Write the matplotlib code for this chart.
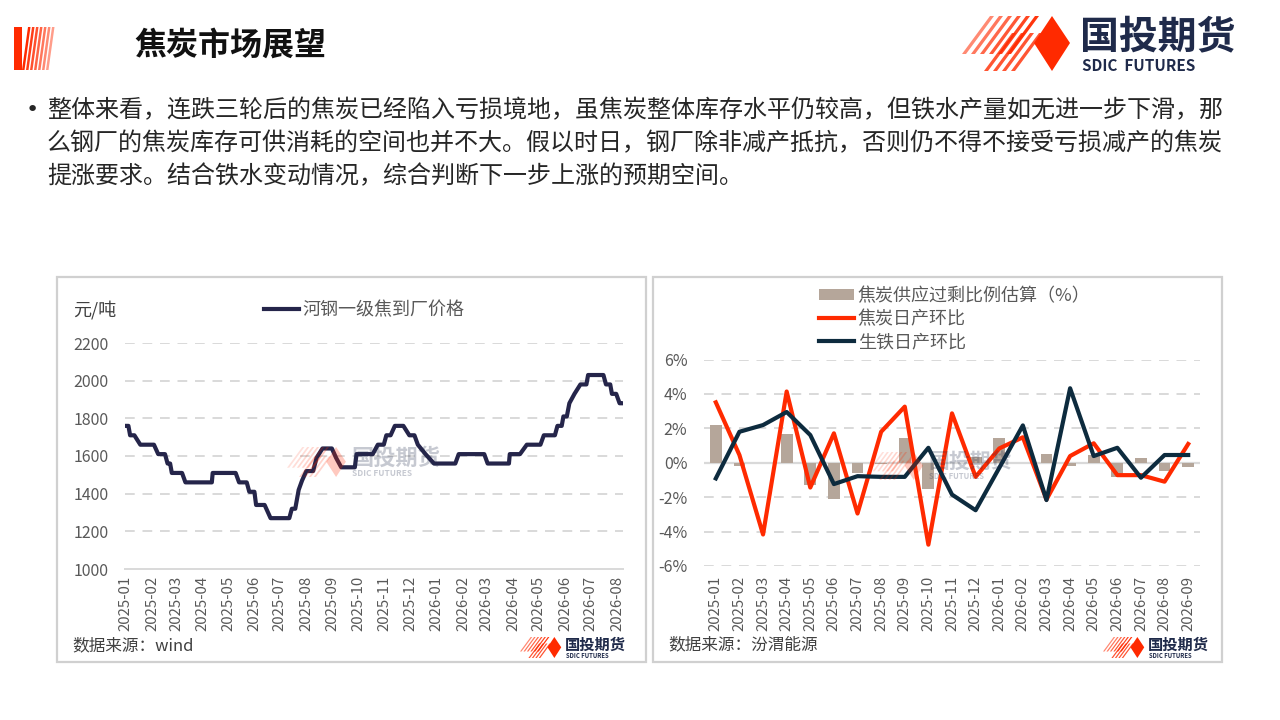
import matplotlib
matplotlib.use("Agg")
import matplotlib.pyplot as plt
import matplotlib.dates as mdates
from matplotlib.patches import Polygon, Rectangle
from matplotlib.lines import Line2D
import numpy as np
import pandas as pd

plt.rcParams['font.family'] = ['Noto Sans CJK SC', 'DejaVu Sans']

# ---- data: left chart (HeGang coke price, change points) ----
price_dates = ["2025-01-01", "2025-01-04", "2025-01-06", "2025-01-11", "2025-01-18",
               "2025-02-03", "2025-02-08", "2025-02-16", "2025-02-19", "2025-02-22",
               "2025-02-24", "2025-03-08", "2025-03-12", "2025-04-12", "2025-04-13",
               "2025-05-10", "2025-05-14", "2025-05-23", "2025-05-26", "2025-06-01",
               "2025-06-03", "2025-06-13", "2025-06-20", "2025-07-12", "2025-07-15",
               "2025-07-19", "2025-07-23", "2025-07-27", "2025-08-01", "2025-08-09",
               "2025-08-13", "2025-08-20", "2025-08-31", "2025-09-05", "2025-09-11",
               "2025-09-27", "2025-09-29", "2025-10-18", "2025-10-24", "2025-10-31",
               "2025-11-03", "2025-11-08", "2025-11-13", "2025-11-23", "2025-11-30",
               "2025-12-06", "2025-12-10", "2025-12-19", "2025-12-29", "2026-01-23",
               "2026-01-27", "2026-02-26", "2026-03-02", "2026-03-27", "2026-03-28",
               "2026-04-09", "2026-04-17", "2026-05-03", "2026-05-07", "2026-05-20",
               "2026-05-23", "2026-05-28", "2026-05-30", "2026-06-03", "2026-06-06",
               "2026-06-12", "2026-06-19", "2026-06-26", "2026-06-28", "2026-07-16",
               "2026-07-19", "2026-07-24", "2026-07-26", "2026-07-31", "2026-08-04",
               "2026-08-06"]
price_values = [1760, 1760, 1710, 1710, 1660,
                1660, 1610, 1610, 1560, 1560,
                1510, 1510, 1460, 1460, 1510,
                1510, 1460, 1460, 1410, 1410,
                1340, 1340, 1270, 1270, 1320,
                1320, 1420, 1470, 1520, 1520,
                1590, 1640, 1640, 1590, 1540,
                1540, 1610, 1610, 1660, 1660,
                1710, 1710, 1760, 1760, 1710,
                1710, 1660, 1610, 1560, 1560,
                1610, 1610, 1560, 1560, 1610,
                1610, 1660, 1660, 1710, 1710,
                1760, 1760, 1810, 1810, 1880,
                1930, 1980, 1980, 2030, 2030,
                1980, 1980, 1930, 1930, 1880,
                1880]

# ---- data: right chart (monthly, %) ----
months = ["2025-01", "2025-02", "2025-03", "2025-04", "2025-05", "2025-06", "2025-07",
          "2025-08", "2025-09", "2025-10", "2025-11", "2025-12", "2026-01", "2026-02",
          "2026-03", "2026-04", "2026-05", "2026-06", "2026-07", "2026-08", "2026-09"]
surplus = [2.17, -0.21, 0.0, 1.65, -1.3, -2.08, -0.58,
           -0.05, 1.46, -1.55, 0.0, 0.35, 1.42, 0.0,
           0.5, -0.17, 0.43, -0.82, 0.27, -0.47, -0.23]
coke_mom = [3.51, 0.45, -4.17, 4.14, -1.44, 1.71, -2.95,
            1.8, 3.26, -4.76, 2.87, -0.82, 0.83, 1.48,
            -2.14, 0.39, 1.13, -0.72, -0.72, -1.1, 1.09]
iron_mom = [-0.91, 1.8, 2.19, 2.95, 1.61, -1.24, -0.78,
            -0.82, -0.82, 0.87, -1.85, -2.76, -0.3, 2.17,
            -2.17, 4.33, 0.39, 0.87, -0.87, 0.45, 0.45]

W, H = 1280, 720
RED = '#FF2A00'
NAVY = '#1F2A4A'
GRAY_TXT = '#595959'
GRID = '#D9D9D9'


def px(x, y):
    return (x / W, 1 - y / H)


def box(x0, y0, x1, y1):
    l, b = px(x0, y1)
    return [l, b, (x1 - x0) / W, (y1 - y0) / H]


def poly(fig, pts, color, alpha=1.0):
    fig.add_artist(Polygon([px(*p) for p in pts], closed=True, transform=fig.transFigure,
                           facecolor=color, edgecolor='none', alpha=alpha))


def draw_logo(fig, x0, y0, h, alpha=1.0, text=True, txt_size=30, sub_size=10,
              sub_text="SDIC FUTURES", txt_y=21, sub_y=49):
    # stripes + diamond, x0,y0 = top-left in pixels, h = height
    s = h / 55.0
    for i in range(6):
        bx = x0 + i * 9 * s
        poly(fig, [(bx, y0 + 38 * s), (bx + 28 * s, y0), (bx + 32 * s, y0),
                   (bx + 4 * s, y0 + 38 * s)], RED, alpha * (0.55 + 0.08 * i))
    for i in range(4):
        bx = x0 + 22 * s + i * 9 * s
        poly(fig, [(bx, y0 + 55 * s), (bx + 28 * s, y0 + 17 * s), (bx + 32 * s, y0 + 17 * s),
                   (bx + 4 * s, y0 + 55 * s)], RED, alpha * 0.8)
    cx = x0 + 90 * s
    poly(fig, [(cx - 18 * s, y0 + 27 * s), (cx, y0), (cx + 18 * s, y0 + 27 * s),
               (cx, y0 + 55 * s)], RED, alpha)
    if text:
        tx = cx + 28 * s
        fig.text(*px(tx, y0 + txt_y * s), "国投期货", fontsize=txt_size, fontweight='bold',
                 color=NAVY, alpha=alpha, va='center', ha='left')
        fig.text(*px(tx + 2 * s, y0 + sub_y * s), sub_text, fontsize=sub_size,
                 fontweight='bold', color=NAVY, alpha=alpha, va='center', ha='left')


fig = plt.figure(figsize=(12.8, 7.2), dpi=100)
fig.patch.set_facecolor('white')

# ---- header ----
poly(fig, [(14, 27), (22, 27), (22, 70), (14, 70)], RED)
for i in range(7):
    bx = 22 + i * 4
    poly(fig, [(bx, 70), (bx + 6, 27), (bx + 8.5, 27), (bx + 2.5, 70)], RED, 1.0 - i * 0.09)
fig.text(*px(134, 46), "焦炭市场展望", fontsize=23, fontweight='bold', color='#111111',
         va='center', ha='left')
draw_logo(fig, 962, 16, 55, txt_size=28, sub_size=11, sub_text="SDIC  FUTURES",
          txt_y=21, sub_y=50)

# ---- bullet text ----
lines = ["整体来看，连跌三轮后的焦炭已经陷入亏损境地，虽焦炭整体库存水平仍较高，但铁水产量如无进一步下滑，那",
         "么钢厂的焦炭库存可供消耗的空间也并不大。假以时日，钢厂除非减产抵抗，否则仍不得不接受亏损减产的焦炭",
         "提涨要求。结合铁水变动情况，综合判断下一步上涨的预期空间。"]
fig.text(*px(26, 110), "•", fontsize=16, color='#262626', va='center', ha='left',
         family='DejaVu Sans')
for i, ln in enumerate(lines):
    fig.text(*px(47, 110 + 33 * i), ln, fontsize=17.3, color='#262626', va='center', ha='left')

# ---- panel frames ----
for (a, b, c, d) in [(57, 277, 646, 662), (653, 277, 1222, 662)]:
    fig.add_artist(Rectangle(px(a, d), (c - a) / W, (d - b) / H, transform=fig.transFigure,
                             facecolor='none', edgecolor='#D0D0D0', linewidth=1.6))

# ---- left chart ----
ax1 = fig.add_axes(box(125, 343, 623, 569))
d = pd.to_datetime(price_dates)
ax1.plot(d, price_values, color='#25254A', linewidth=3.0, solid_joinstyle='round',
         label='河钢一级焦到厂价格', zorder=3)
ax1.set_ylim(1000, 2200)
ax1.set_yticks(np.arange(1000, 2201, 200))
ax1.set_xlim(pd.Timestamp("2024-12-31"), pd.Timestamp("2026-08-08"))
ax1.xaxis.set_major_locator(mdates.MonthLocator())
ax1.xaxis.set_major_formatter(mdates.DateFormatter('%Y-%m'))
for yv in range(1200, 2201, 200):
    ax1.axhline(yv, color=GRID, linewidth=1.4, linestyle=(0, (5, 4)), zorder=1)
for s in ['top', 'right', 'left']:
    ax1.spines[s].set_visible(False)
ax1.spines['bottom'].set_color(GRID)
ax1.spines['bottom'].set_linewidth(1.4)
ax1.tick_params(axis='y', length=0, pad=12, labelsize=11.5, labelcolor=GRAY_TXT)
ax1.tick_params(axis='x', length=0, pad=5, labelsize=10.8, labelcolor=GRAY_TXT, rotation=90)
fig.text(*px(73, 310), "元/吨", fontsize=13, color='#404040', va='center', ha='left')
fig.legend(handles=[Line2D([], [], color='#25254A', linewidth=3.0)], labels=['河钢一级焦到厂价格'],
           loc='center left', bbox_to_anchor=px(264, 310), frameon=False, fontsize=13,
           handlelength=1.95, handletextpad=0.2, labelcolor=GRAY_TXT, borderpad=0,
           borderaxespad=0)
fig.text(*px(72, 646), "数据来源：wind", fontsize=12, color='#404040', va='center', ha='left')
draw_logo(fig, 520, 637, 21, txt_size=11, sub_size=4.3)
# watermark
draw_logo(fig, 287, 447, 30, alpha=0.25, txt_size=16, sub_size=6)

# ---- right chart ----
ax2 = fig.add_axes(box(704, 359.5, 1200, 566))
x = np.arange(len(months))
ax2.bar(x, surplus, width=0.5, color='#B5A69A', zorder=2)
ax2.plot(x, coke_mom, color=RED, linewidth=3.0, zorder=3)
ax2.plot(x, iron_mom, color='#0D2B3E', linewidth=3.0, zorder=4)
ax2.set_xlim(-0.5, len(months) - 0.5)
ax2.set_ylim(-6, 6)
ax2.set_yticks(np.arange(-6, 7, 2))
ax2.set_yticklabels([f"{v}%" for v in range(-6, 7, 2)])
ax2.set_xticks(x)
ax2.set_xticklabels(months)
for yv in range(-6, 7, 2):
    if yv != 0:
        ax2.axhline(yv, color=GRID, linewidth=1.4, linestyle=(0, (5, 4)), zorder=1)
ax2.axhline(0, color=GRID, linewidth=1.6, zorder=1.5)
for s in ['top', 'right', 'left', 'bottom']:
    ax2.spines[s].set_visible(False)
ax2.tick_params(axis='y', length=0, pad=12, labelsize=11.5, labelcolor=GRAY_TXT)
ax2.tick_params(axis='x', length=0, pad=7, labelsize=10.8, labelcolor=GRAY_TXT, rotation=90)
fig.legend(handles=[Rectangle((0, 0), 1, 1, facecolor='#B5A69A', edgecolor='none'),
                    Line2D([], [], color=RED, linewidth=3.0),
                    Line2D([], [], color='#0D2B3E', linewidth=3.0)],
           labels=['焦炭供应过剩比例估算（%）', '焦炭日产环比', '生铁日产环比'],
           loc='upper left', bbox_to_anchor=px(819, 287), frameon=False, fontsize=13,
           handlelength=1.95, handleheight=0.6, handletextpad=0.2, labelspacing=0.28,
           labelcolor=GRAY_TXT, borderaxespad=0, borderpad=0)
fig.text(*px(668, 645), "数据来源：汾渭能源", fontsize=12, color='#404040', va='center', ha='left')
draw_logo(fig, 1103, 637, 21, txt_size=11, sub_size=4.3)
draw_logo(fig, 868, 452, 28, alpha=0.25, txt_size=15, sub_size=5.5)

fig.savefig("out.png", dpi=100)
